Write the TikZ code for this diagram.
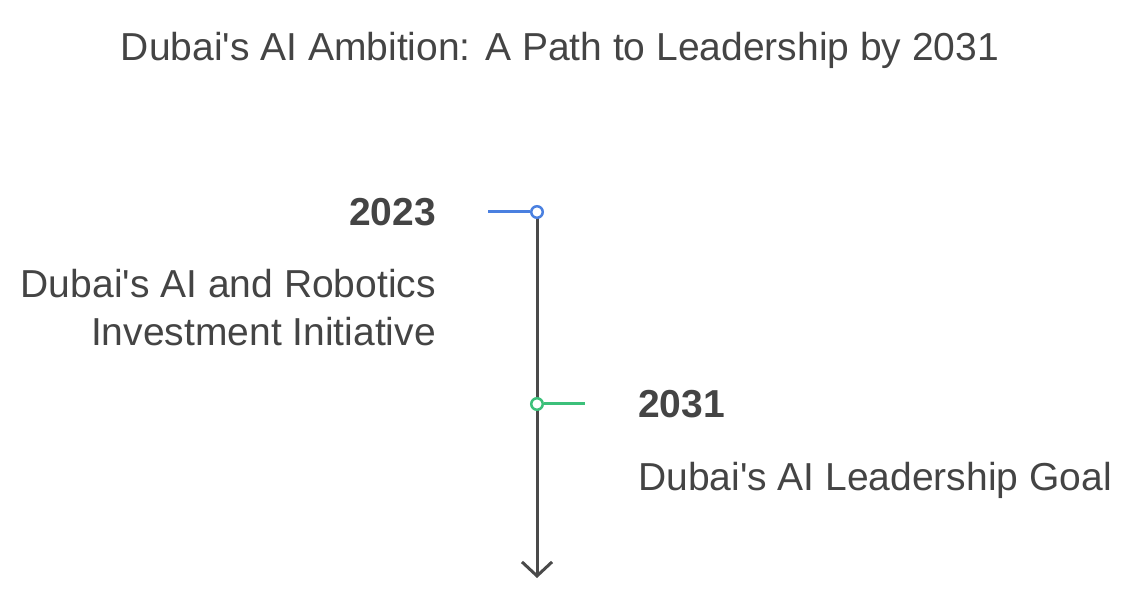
\documentclass[tikz,border=0pt]{standalone}
\usepackage{fontspec}
\setmainfont{Liberation Sans}[Ligatures=TeXOff]
\usetikzlibrary{arrows.meta}
\definecolor{txt}{HTML}{444444}
\definecolor{axis}{HTML}{4A4A4A}
\definecolor{blueC}{HTML}{4A80E0}
\definecolor{greenC}{HTML}{3CC07A}
\tikzset{
  lbl/.style={inner sep=0pt, text=txt, font=\fontsize{39}{48}\selectfont},
  yr/.style={inner sep=0pt, text=txt, font=\fontsize{39}{48}\selectfont\bfseries},
  dot/.style={circle, draw=#1, fill=white, line width=2.5pt, minimum size=11.5pt, inner sep=0pt},
}
\begin{document}
\begin{tikzpicture}[x=1pt,y=1pt]
\useasboundingbox (0,0) rectangle (1121,608);
\node[lbl, anchor=base] (title) at (560,547) {Dubai's AI Ambition: A Path to Leadership by 2031};
\coordinate (b1) at (488,396);
\coordinate (g2) at (585,204);
\coordinate (end) at (537,30);
\draw[axis, line width=3pt, -{Straight Barb[length=14pt,width=30pt,line width=3pt]}] (537,396) -- (end);
\node[dot=blueC] (c1) at (537,396) {};
\node[dot=greenC] (c2) at (537,204) {};
\draw[blueC, line width=3pt] (b1) -- (c1.west);
\draw[greenC, line width=3pt] (c2.east) -- (g2);
\node[yr, anchor=base east] (y1) at (436,382) {2023};
\node[lbl, anchor=base east] (t1a) at (436,310) {Dubai's AI and Robotics};
\node[lbl, anchor=base east] (t1b) at (436,262) {Investment Initiative};
\node[yr, anchor=base west] (y2) at (638,190) {2031};
\node[lbl, anchor=base west] (t2) at (638,118) {Dubai's AI Leadership Goal};
\end{tikzpicture}
\end{document}
